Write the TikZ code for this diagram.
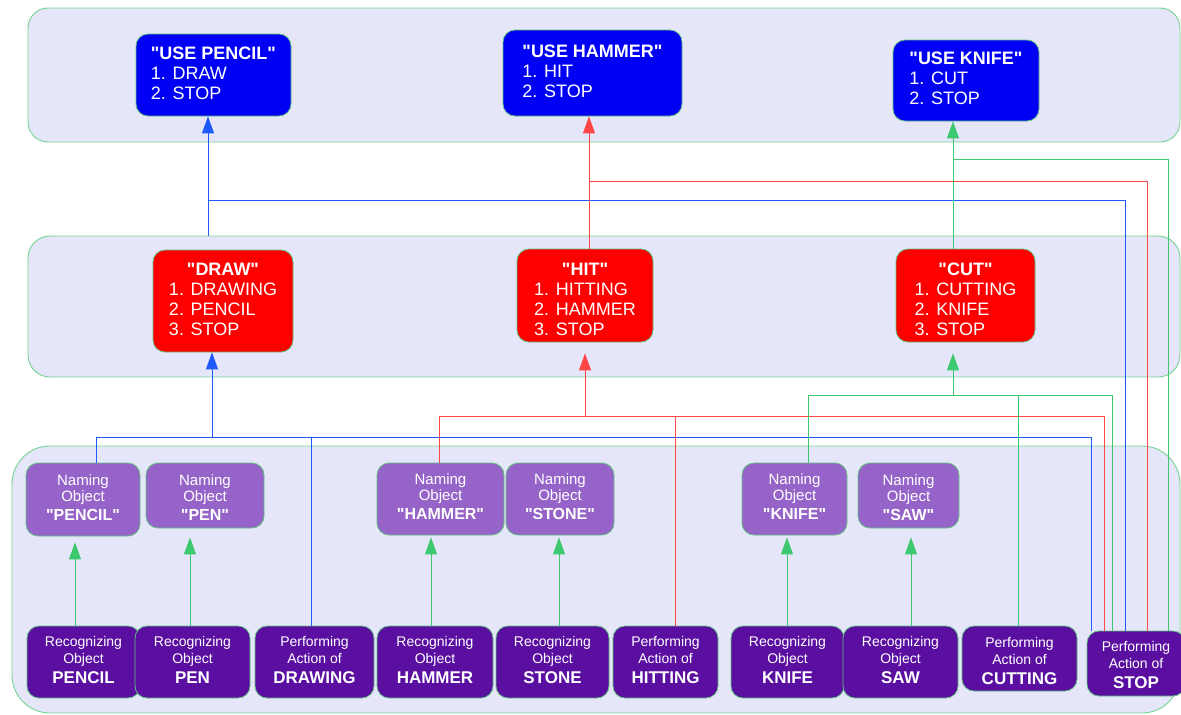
\documentclass[tikz,border=0pt]{standalone}
\usepackage{fontspec}
\setmainfont{Liberation Sans}[Ligatures=TeXOff]
\usetikzlibrary{arrows.meta}

\definecolor{bandfill}{RGB}{230,230,250}
\definecolor{bandedge}{RGB}{115,212,145}
\definecolor{nodeedge}{RGB}{95,195,125}
\definecolor{useblue}{RGB}{0,0,245}
\definecolor{actred}{RGB}{255,0,0}
\definecolor{namepurple}{RGB}{150,100,200}
\definecolor{recpurple}{RGB}{90,15,160}
\definecolor{lineblue}{RGB}{30,90,250}
\definecolor{linered}{RGB}{255,70,70}
\definecolor{linegreen}{RGB}{60,200,110}

% move node text down without changing the node's size
\newcommand\lowered[2]{\raisebox{-#1}[\height][\depth]{#2}}
% header over a left-aligned list
\newcommand\headlist[2]{\begin{tabular}{@{}l@{}}\multicolumn{1}{@{}c@{}}{\bfseries #1}\\#2\end{tabular}}
% two light lines and one bold line
\newcommand\threeline[4]{\begin{tabular}{@{}c@{}}#1\\#2\\[3pt]\fontsize{#4}{#4}\selectfont\bfseries #3\end{tabular}}

\begin{document}
\begin{tikzpicture}[x=1pt,y=-1pt,
  band/.style={draw=bandedge, fill=bandfill, line width=0.9pt, inner sep=0pt},
  box/.style={draw=nodeedge, line width=0.8pt, rounded corners=12pt, inner sep=0pt, text=white},
  usebox/.style={box, fill=useblue, font=\fontsize{18}{20}\selectfont},
  actbox/.style={box, fill=actred, font=\fontsize{18}{20}\selectfont},
  namebox/.style={box, fill=namepurple, font=\fontsize{15}{16}\selectfont},
  recbox/.style={box, fill=recpurple, font=\fontsize{14}{17}\selectfont},
  wh/.style 2 args={minimum width=#1pt, minimum height=#2pt},
  bl/.style={draw=lineblue, line width=0.9pt},
  rl/.style={draw=linered, line width=0.9pt},
  gl/.style={draw=linegreen, line width=0.9pt},
  arr/.style={-{Triangle[width=12pt,length=17pt]}}
]
\useasboundingbox (0,0) rectangle (1181,715);

% three layers
\node[band, rounded corners=20pt, wh={1152}{134}] (topband) at (604,75) {};
\node[band, rounded corners=22pt, wh={1152}{141}] (midband) at (604,306.5) {};
\node[band, rounded corners=38pt, wh={1168}{267}] (lowband) at (596,579.5) {};

% top layer: tool programs
\node[usebox, wh={155}{82}] (usepencil) at (213.5,75)
  {\begin{tabular}{@{}l@{}}\bfseries"USE PENCIL"\\1. DRAW\\2. STOP\end{tabular}};
\node[usebox, wh={179}{86}] (usehammer) at (592.5,73)
  {\begin{tabular}{@{}l@{}}\bfseries"USE HAMMER"\\1. HIT\\2. STOP\end{tabular}};
\node[usebox, wh={146}{81}] (useknife) at (966,80.5)
  {\begin{tabular}{@{}l@{}}\bfseries"USE KNIFE"\\1. CUT\\2. STOP\end{tabular}};

% middle layer: actions
\node[actbox, wh={140}{102}] (draw) at (223,301)
  {\headlist{"DRAW"}{1. DRAWING\\2. PENCIL\\3. STOP}};
\node[actbox, wh={136}{93}] (hit) at (585,295.5)
  {\lowered{5.5pt}{\headlist{"HIT"}{1. HITTING\\2. HAMMER\\3. STOP}}};
\node[actbox, wh={139}{93}] (cut) at (965.5,295.5)
  {\lowered{5.5pt}{\headlist{"CUT"}{1. CUTTING\\2. KNIFE\\3. STOP}}};

% lower layer: naming objects
\node[namebox, wh={114}{73}] (npencil) at (83,499.5) {\threeline{Naming}{Object}{"PENCIL"}{16}};
\node[namebox, wh={118}{65}] (npen) at (205,495.5) {\lowered{4.5pt}{\threeline{Naming}{Object}{"PEN"}{16}}};
\node[namebox, wh={127}{72}] (nhammer) at (440.5,499) {\threeline{Naming}{Object}{"HAMMER"}{16}};
\node[namebox, wh={108}{72}] (nstone) at (560,499) {\threeline{Naming}{Object}{"STONE"}{16}};
\node[namebox, wh={105}{72}] (nknife) at (794.5,499) {\threeline{Naming}{Object}{"KNIFE"}{16}};
\node[namebox, wh={101}{65}] (nsaw) at (908.5,495.5) {\lowered{4.5pt}{\threeline{Naming}{Object}{"SAW"}{16}}};

% lower layer: recognizing objects and performing actions
\node[recbox, wh={113}{72}] (rpencil) at (83.5,662) {\threeline{Recognizing}{Object}{PENCIL}{17}};
\node[recbox, wh={115}{72}] (rpen) at (192.5,662) {\threeline{Recognizing}{Object}{PEN}{17}};
\node[recbox, wh={119}{72}] (pdraw) at (314.5,662) {\threeline{Performing}{Action of}{DRAWING}{17}};
\node[recbox, wh={116}{72}] (rhammer) at (435,662) {\threeline{Recognizing}{Object}{HAMMER}{17}};
\node[recbox, wh={113}{72}] (rstone) at (552.5,662) {\threeline{Recognizing}{Object}{STONE}{17}};
\node[recbox, wh={105}{72}] (phit) at (665.5,662) {\threeline{Performing}{Action of}{HITTING}{17}};
\node[recbox, wh={113}{72}] (rknife) at (787.5,662) {\threeline{Recognizing}{Object}{KNIFE}{17}};
\node[recbox, wh={115}{72}] (rsaw) at (900.5,662) {\threeline{Recognizing}{Object}{SAW}{17}};
\node[recbox, wh={115}{65}] (pcut) at (1019.5,658.5) {\lowered{4.5pt}{\threeline{Performing}{Action of}{CUTTING}{17}}};
\node[recbox, wh={98}{65}] (pstop) at (1136,663.5) {\lowered{3pt}{\threeline{Performing}{Action of}{STOP}{17}}};

% recognizing -> naming
\coordinate (g1) at (75,0);
\coordinate (g2) at (190,0);
\coordinate (g3) at (431,0);
\coordinate (g4) at (559,0);
\coordinate (g5) at (787,0);
\coordinate (g6) at (911,0);
\draw[gl, arr, shorten >=6pt] (rpencil.north -| g1) -- (npencil.south -| g1);
\draw[gl, arr, shorten >=9pt] (rpen.north -| g2) -- (npen.south -| g2);
\draw[gl, arr, shorten >=2pt] (rhammer.north -| g3) -- (nhammer.south -| g3);
\draw[gl, arr, shorten >=2pt] (rstone.north -| g4) -- (nstone.south -| g4);
\draw[gl, arr, shorten >=2pt] (rknife.north -| g5) -- (nknife.south -| g5);
\draw[gl, arr, shorten >=9pt] (rsaw.north -| g6) -- (nsaw.south -| g6);

% bus into DRAW
\coordinate (bL) at (96,437);
\coordinate (bR) at (1091,437);
\coordinate (bUp) at (212,437);
\coordinate (bD) at (311,437);
\draw[bl] (npencil.north -| bL) -- (bL) -- (bR) -- (pstop.north -| bR);
\draw[bl] (pdraw.north -| bD) -- (bD);
\draw[bl, arr] (bUp) -- (draw.south -| bUp);

% bus into HIT
\coordinate (rL) at (439,416);
\coordinate (rR) at (1104,416);
\coordinate (rUp) at (585,416);
\coordinate (rH) at (675,416);
\draw[rl] (nhammer.north -| rL) -- (rL) -- (rR) -- (pstop.north -| rR);
\draw[rl] (phit.north -| rH) -- (rH);
\draw[rl, arr, shorten >=11pt] (rUp) -- (hit.south -| rUp);

% bus into CUT
\coordinate (cL) at (808,395);
\coordinate (cR) at (1112,395);
\coordinate (cUp) at (953,395);
\coordinate (cC) at (1018,395);
\draw[gl] (nknife.north -| cL) -- (cL) -- (cR) -- (pstop.north -| cR);
\draw[gl] (pcut.north -| cC) -- (cC);
\draw[gl, arr, shorten >=11pt] (cUp) -- (cut.south -| cUp);

% buses into the tool programs
\coordinate (tbL) at (208,200);
\coordinate (tbR) at (1125,200);
\draw[bl, arr] (midband.north -| tbL) -- (usepencil.south -| tbL);
\draw[bl] (tbL) -- (tbR) -- (pstop.north -| tbR);

\coordinate (trL) at (589,181);
\coordinate (trR) at (1147,181);
\draw[rl, arr] (hit.north -| trL) -- (usehammer.south -| trL);
\draw[rl] (trL) -- (trR) -- (pstop.north -| trR);

\coordinate (tgL) at (953,159);
\coordinate (tgR) at (1168,159);
\draw[gl, arr] (cut.north -| tgL) -- (useknife.south -| tgL);
\draw[gl] (tgL) -- (tgR) -- (pstop.north -| tgR);
\end{tikzpicture}
\end{document}
